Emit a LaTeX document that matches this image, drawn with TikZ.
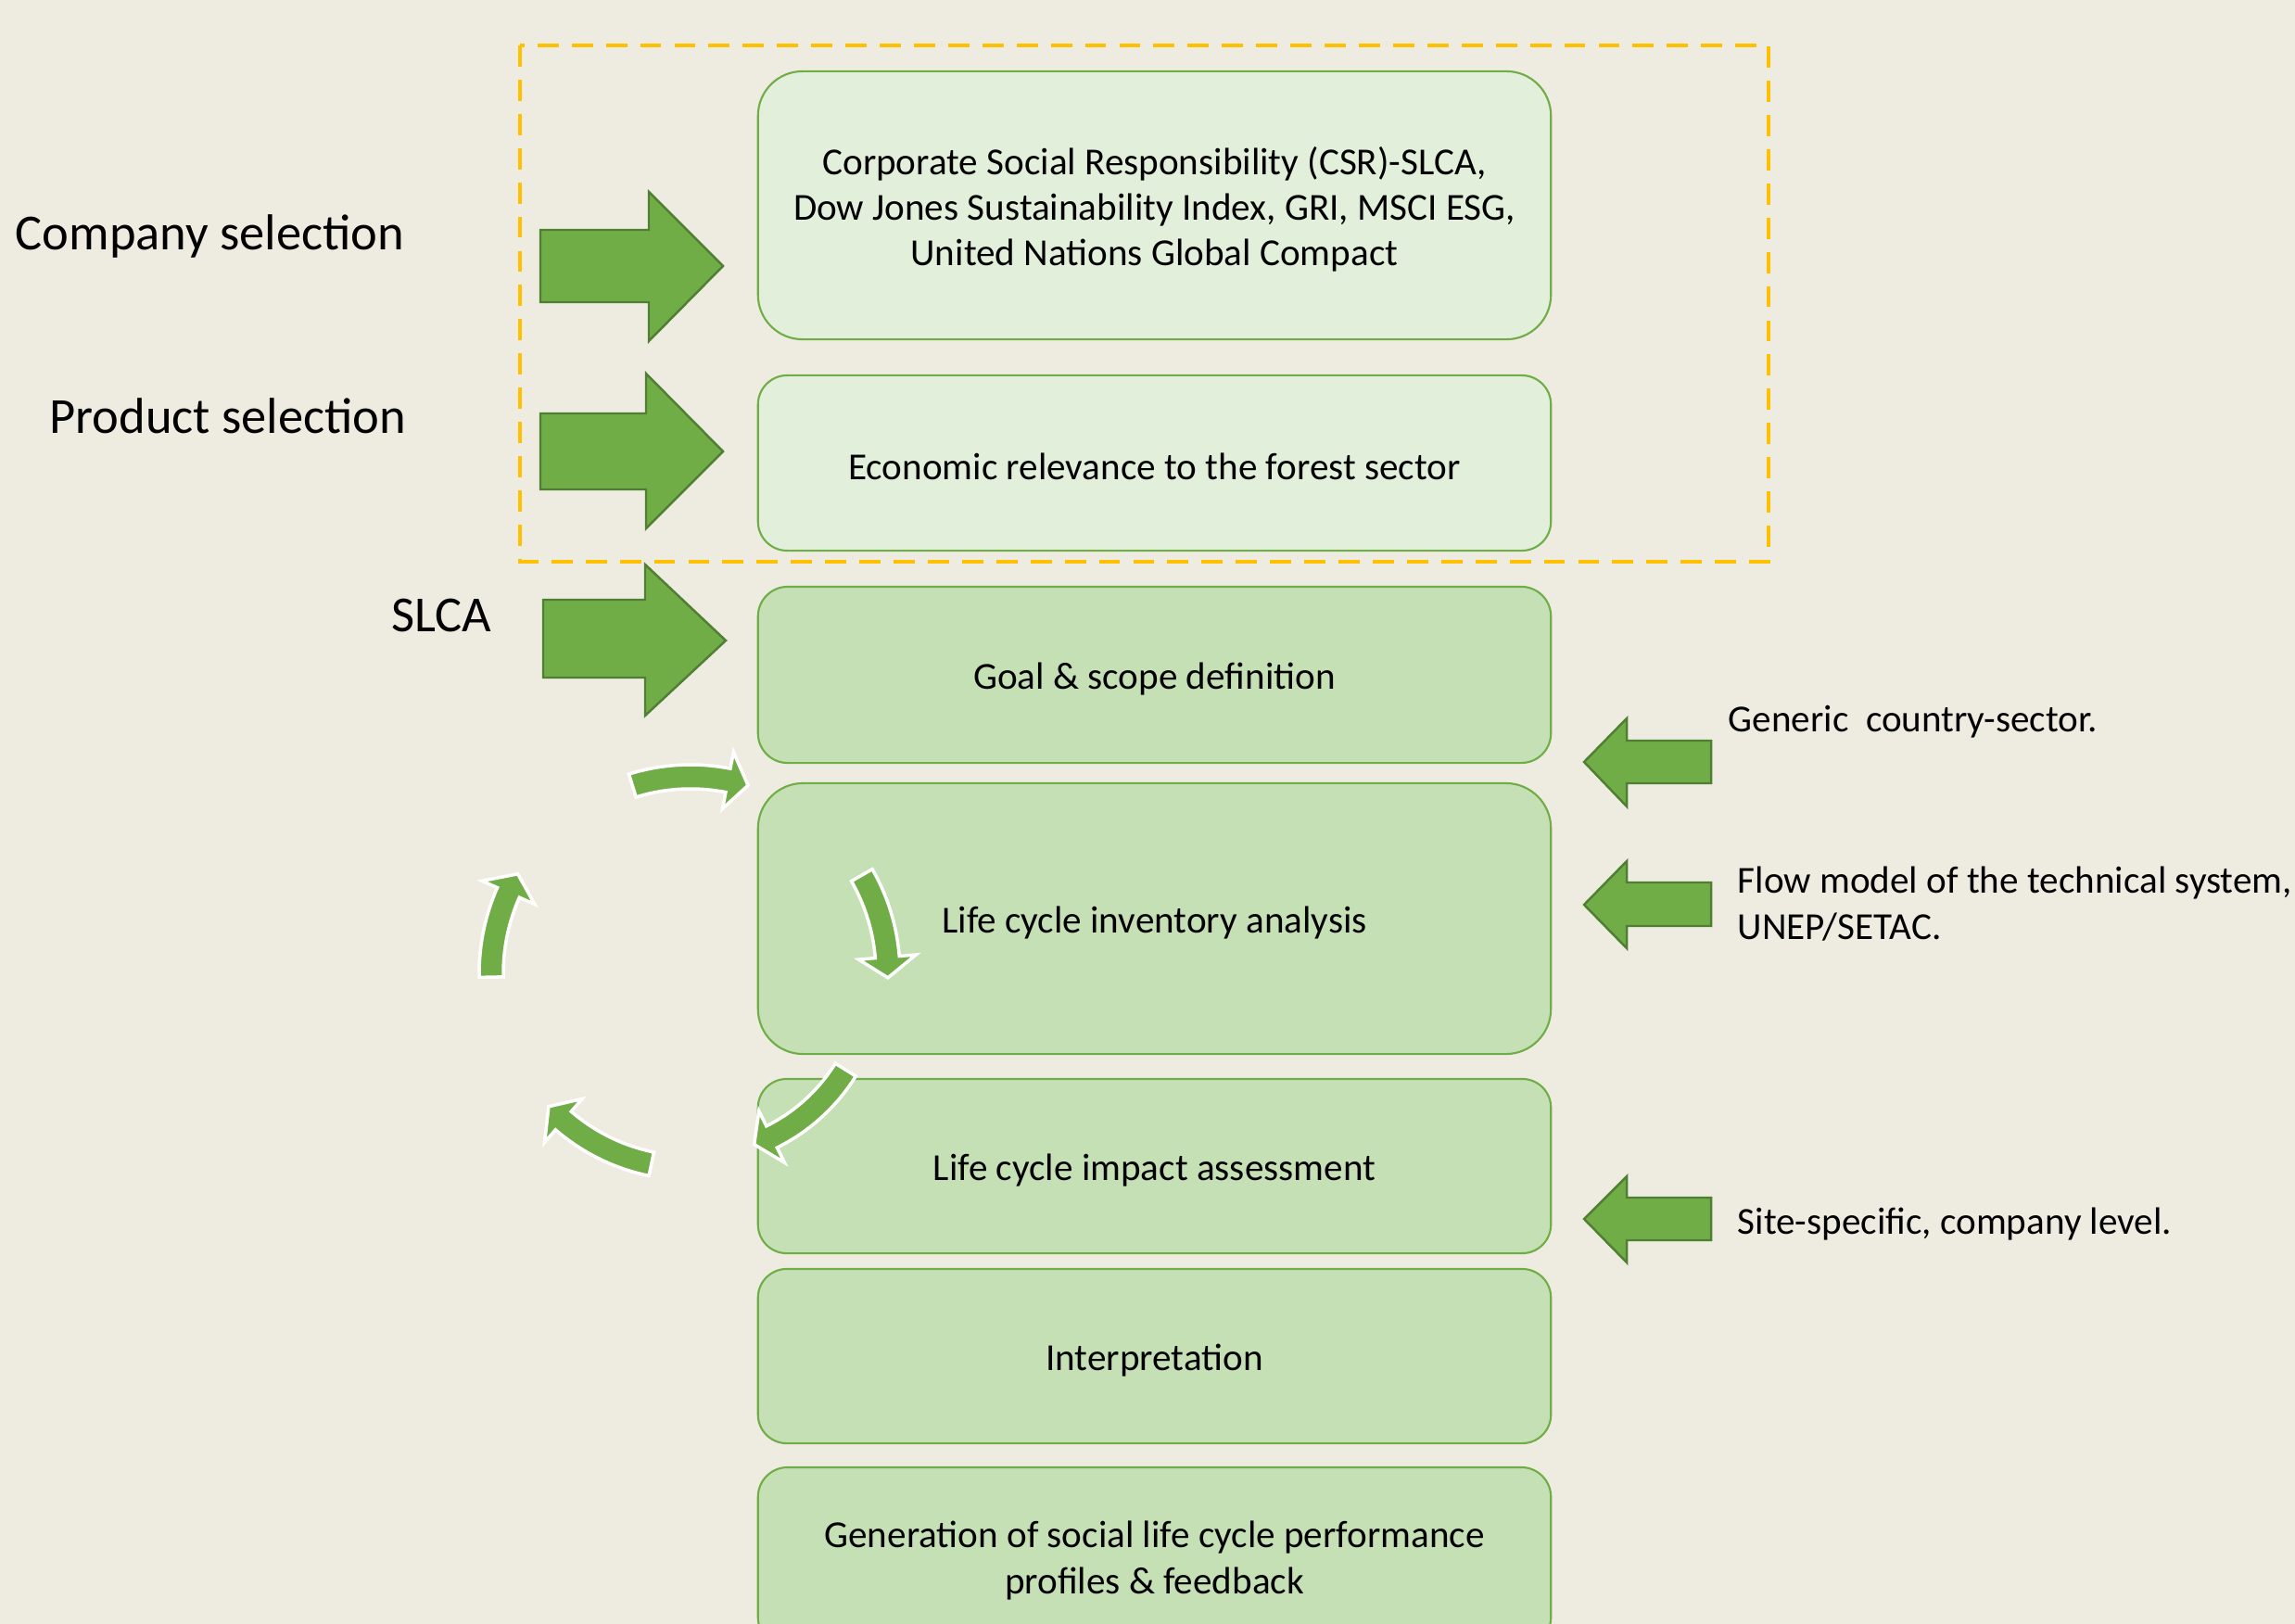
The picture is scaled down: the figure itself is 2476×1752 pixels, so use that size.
\documentclass[tikz,border=0pt]{standalone}
\usepackage{fontspec}
\setmainfont{Carlito}
\definecolor{bgc}{HTML}{EEECE1}
\definecolor{lightbox}{HTML}{E2EFDA}
\definecolor{midbox}{HTML}{C5E0B4}
\definecolor{grn}{HTML}{70AD47}
\definecolor{darkgrn}{HTML}{507E32}
\definecolor{orng}{HTML}{FFC000}
\newcommand{\boxfs}{\fontsize{11.7pt}{14pt}\selectfont}
\newcommand{\labfs}{\fontsize{15.5pt}{18.6pt}\selectfont}
\tikzset{
  stagebox/.style={draw=grn, line width=0.6pt, minimum width=8.55cm, inner sep=0pt},
  lightstage/.style={stagebox, fill=lightbox},
  midstage/.style={stagebox, fill=midbox},
  stagetext/.style={inner sep=0pt, align=center, font=\boxfs, text=black},
  sidelab/.style={inner sep=0pt, font=\labfs, text=black},
  sidetxt/.style={inner sep=0pt, font=\boxfs, text=black},
  blockarrow/.style={fill=grn, draw=darkgrn, line width=0.7pt, line join=miter},
  cycarrow/.style={fill=grn, draw=white, line width=1pt, line join=miter},
  scopebox/.style={draw=orng, line width=1.2pt, dash pattern=on 6.5pt off 4pt}
}
\begin{document}
\begin{tikzpicture}[x=0.01cm, y=-0.01cm]
\path[use as bounding box, fill=bgc] (0,0) rectangle (2476,1752);
\clip (0,0) rectangle (2476,1752);

% stage boxes
\node[lightstage, minimum height=2.89cm, rounded corners=0.48cm] (csr) at (1245.5,221.5) {};
\node[lightstage, minimum height=1.89cm, rounded corners=0.315cm] (econ) at (1245.5,499.5) {};
\node[midstage, minimum height=1.90cm, rounded corners=0.32cm] (goal) at (1245.5,728) {};
\node[midstage, minimum height=2.92cm, rounded corners=0.487cm] (lci) at (1245.5,991) {};
\node[midstage, minimum height=1.88cm, rounded corners=0.31cm] (lcia) at (1245.5,1258) {};
\node[midstage, minimum height=1.88cm, rounded corners=0.31cm] (interp) at (1245.5,1463) {};
\node[midstage, minimum height=1.94cm, rounded corners=0.32cm] (gen) at (1245.5,1680) {};

% stage texts
\node[stagetext] (csr-t) at ([yshift=-0.045cm]csr.center)
  {Corporate Social Responsibility (CSR)-SLCA,\\Dow Jones Sustainability Index, GRI, MSCI ESG,\\United Nations Global Compact};
\node[stagetext] (econ-t) at ([yshift=-0.04cm]econ.center) {Economic relevance to the forest sector};
\node[stagetext] (goal-t) at ([yshift=-0.045cm]goal.center) {Goal \& scope definition};
\node[stagetext] (lci-t) at ([yshift=-0.045cm]lci.center) {Life cycle inventory analysis};
\node[stagetext] (lcia-t) at ([yshift=-0.045cm]lcia.center) {Life cycle impact assessment};
\node[stagetext] (interp-t) at ([yshift=-0.045cm]interp.center) {Interpretation};
\node[stagetext] (gen-t) at ([yshift=-0.035cm]gen.center) {Generation of social life cycle performance\\profiles \& feedback};

% dashed scope frame
\draw[scopebox] (561,49) rectangle (1908,606);

% left labels
\node[sidelab, anchor=base east] (comp) at (437,270) {Company selection};
\node[sidelab, anchor=base east] (prod) at (439,468) {Product selection};
\node[sidelab, anchor=base east] (slca) at (531,681) {SLCA};

% big right-pointing block arrows
\draw[blockarrow] (583,248) -- (700,248) -- (700,207) -- (780,287) -- (700,368) -- (700,326) -- (583,326) -- cycle;
\draw[blockarrow] (583,446) -- (697,446) -- (697,403) -- (780,487) -- (697,570) -- (697,528) -- (583,528) -- cycle;
\draw[blockarrow] (586,647) -- (696,647) -- (696,609) -- (783,691) -- (696,772) -- (696,731) -- (586,731) -- cycle;

% right side left-pointing block arrows
\draw[blockarrow] (1846,799) -- (1755,799) -- (1755,775) -- (1709,822) -- (1755,870) -- (1755,845) -- (1846,845) -- cycle;
\draw[blockarrow] (1846,952) -- (1755,952) -- (1755,929) -- (1709,976) -- (1755,1023) -- (1755,999) -- (1846,999) -- cycle;
\draw[blockarrow] (1846,1292) -- (1755,1292) -- (1755,1269) -- (1709,1315) -- (1755,1362) -- (1755,1338) -- (1846,1338) -- cycle;

% right side texts
\node[sidetxt, anchor=base west] (generic) at (1864,789) {Generic\ \ country-sector.};
\node[sidetxt, anchor=west, align=left] (flow) at (1874,975) {Flow model of the technical system,\\UNEP/SETAC.};
\node[sidetxt, anchor=base west] (site) at (1874,1331) {Site-specific, company level.};

% circular cycle arrows
\foreach \rad/\sa/\ea in {212/-107.2/-73, 213/-29.8/1.3, 197/31.9/69.6, 210/101.6/136.8, 215/178.9/209.9} {
  \pgfmathsetmacro\hb{\ea-6}
  \filldraw[cycarrow]
    plot[domain=\sa:\hb, samples=25, variable=\t] ({745+(\rad+13)*cos(\t)},{1050+(\rad+13)*sin(\t)})
    -- ({745+(\rad+31)*cos(\hb)},{1050+(\rad+31)*sin(\hb)})
    -- ({745+\rad*cos(\ea)},{1050+\rad*sin(\ea)})
    -- ({745+(\rad-31)*cos(\hb)},{1050+(\rad-31)*sin(\hb)})
    -- plot[domain=\hb:\sa, samples=25, variable=\t] ({745+(\rad-13)*cos(\t)},{1050+(\rad-13)*sin(\t)})
    -- cycle;
}
\end{tikzpicture}
\end{document}
